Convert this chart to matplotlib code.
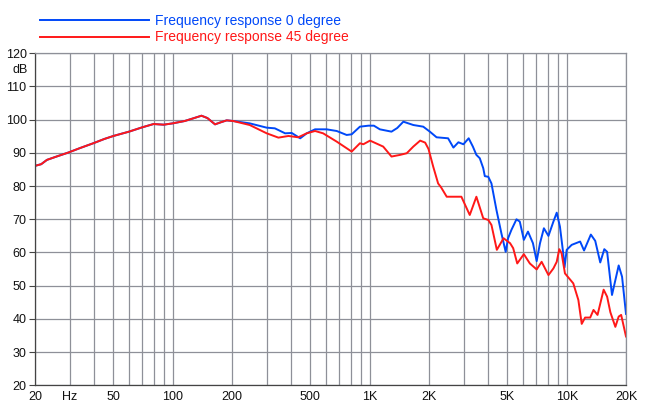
import numpy as np
from matplotlib import pyplot as plt
from matplotlib.ticker import FixedLocator, NullFormatter

# frequency response
blue_freq = [20, 21.5, 23, 26, 29.5, 34, 39.5, 45, 50, 60, 70, 80, 90, 100, 115, 127,
             140, 150, 164, 175, 188, 203, 246, 300, 330, 372, 402, 444, 479, 528, 604,
             680, 764, 810, 892, 985, 1050, 1126, 1290, 1380, 1482, 1665, 1870, 2020, 2185,
             2500, 2660, 2820, 2990, 3180, 3340, 3480, 3620, 3770, 3840, 4000, 4150, 4400,
             4660, 4900, 5040, 5240, 5560, 5780, 6060, 6360, 6740, 7040, 7320, 7660, 8080,
             8560, 8900, 9240, 9600, 9750, 10000, 10600, 11700, 12250, 13260, 13960, 14800,
             15520, 16040, 16980, 18360, 19100, 20000]
blue_db = [86.1, 86.6, 87.9, 89.0, 90.1, 91.5, 92.9, 94.2, 95.1, 96.4, 97.7, 98.7, 98.5,
           98.9, 99.6, 100.4, 101.2, 100.5, 98.6, 99.2, 99.8, 99.6, 98.9, 97.6, 97.4, 95.9,
           96.0, 94.4, 95.9, 97.1, 97.1, 96.6, 95.4, 95.6, 97.9, 98.2, 98.2, 97.1, 96.4,
           97.5, 99.4, 98.4, 97.9, 96.4, 94.7, 94.4, 91.6, 93.2, 92.6, 94.4, 91.9, 89.4,
           88.4, 85.4, 83.0, 82.8, 80.8, 72.8, 65.8, 60.2, 64.3, 66.8, 70.0, 69.3, 63.8,
           66.3, 62.8, 57.4, 62.8, 67.3, 65.0, 69.3, 72.0, 67.8, 59.8, 55.5, 60.8, 62.3,
           63.3, 60.6, 65.4, 63.5, 57.0, 61.0, 60.2, 47.2, 56.1, 52.7, 41.5]

red_freq = [20, 21.5, 23, 26, 29.5, 34, 39.5, 45, 50, 60, 70, 80, 90, 100, 115, 127,
            140, 150, 164, 175, 188, 203, 246, 300, 344, 387, 434, 479, 528, 580, 680,
            810, 892, 928, 1004, 1171, 1290, 1426, 1542, 1665, 1804, 1912, 1988, 2100,
            2225, 2305, 2460, 2700, 2920, 3220, 3480, 3770, 4000, 4150, 4420, 4780, 5160,
            5350, 5610, 6060, 6500, 7040, 7460, 8080, 8560, 8900, 9170, 9420, 9800, 10800,
            11460, 11920, 12400, 13160, 13680, 14340, 15400, 16040, 16660, 17660, 18360,
            18900, 20000]
red_db = [86.1, 86.6, 87.9, 89.0, 90.1, 91.5, 92.9, 94.2, 95.1, 96.4, 97.7, 98.7, 98.5,
          98.9, 99.6, 100.4, 101.2, 100.5, 98.6, 99.2, 99.8, 99.6, 98.4, 95.9, 94.6, 95.1,
          94.7, 95.9, 96.6, 95.9, 93.4, 90.4, 92.9, 92.6, 93.7, 91.9, 88.9, 89.4, 89.9,
          91.9, 93.7, 93.1, 91.2, 85.9, 80.8, 79.6, 76.8, 76.8, 76.8, 71.3, 76.8, 70.3,
          69.8, 68.3, 60.8, 64.3, 62.8, 61.3, 56.7, 59.5, 56.7, 54.9, 57.2, 53.2, 55.2,
          57.2, 61.0, 59.8, 53.7, 50.7, 45.7, 38.5, 40.4, 40.4, 42.7, 41.2, 48.8, 46.7,
          42.0, 37.6, 40.7, 41.2, 34.7]

x_ticks = [20, 30, 50, 100, 200, 500, 1000, 2000, 5000, 10000, 20000]
x_labels = ['20', 'Hz', '50', '100', '200', '500', '1K', '2K', '5K', '10K', '20K']
y_ticks = list(range(20, 121, 10))

plt.rcParams['font.family'] = ['Liberation Sans', 'DejaVu Sans']

fig = plt.figure(figsize=(6.5, 4.2), dpi=100)
ax = fig.add_axes([35 / 650, 34.7 / 420, 591 / 650, 332 / 420])

grid_color = '#8e9098'
ax.set_xscale('log')
ax.set_xlim(20, 20000)
ax.set_ylim(20, 120)

ax.plot(blue_freq, blue_db, color='#0048f8', lw=1.4, solid_joinstyle='round',
        label='Frequency response 0 degree')
ax.plot(red_freq, red_db, color='#ff1818', lw=1.4, solid_joinstyle='round',
        label='Frequency response 45 degree')

ax.xaxis.set_major_locator(FixedLocator(x_ticks))
ax.set_xticklabels(x_labels)
minor = [m * d for d in (10, 100, 1000, 10000) for m in range(1, 10)]
ax.xaxis.set_minor_locator(FixedLocator([f for f in minor if 20 <= f <= 20000]))
ax.xaxis.set_minor_formatter(NullFormatter())
ax.set_yticks(y_ticks)

ax.grid(True, which='both', axis='x', color=grid_color, lw=0.9)
ax.grid(True, which='major', axis='y', color=grid_color, lw=0.9)
ax.set_axisbelow(True)

ax.tick_params(axis='both', which='major', direction='out', length=4, width=0.8,
               labelsize=9, colors='#444444', labelcolor='#111111', pad=2)
ax.tick_params(axis='x', which='minor', length=0)
ax.tick_params(axis='x', which='major', length=0, pad=4)

for side in ['top', 'right']:
    ax.spines[side].set_color(grid_color)
    ax.spines[side].set_linewidth(0.9)
for side in ['left', 'bottom']:
    ax.spines[side].set_color('#444444')
    ax.spines[side].set_linewidth(0.9)

ax.text(-0.012, 115, 'dB', transform=ax.get_yaxis_transform(), ha='right',
        va='center', fontsize=9, color='#111111')

fig.legend(loc='upper left', bbox_to_anchor=(30 / 650, 1.0 - 4 / 420), frameon=False,
           fontsize=10, handlelength=7.9, handletextpad=0.4, labelspacing=0.2,
           labelcolor='linecolor', borderpad=0.2)

plt.savefig('out.png', dpi=100)
